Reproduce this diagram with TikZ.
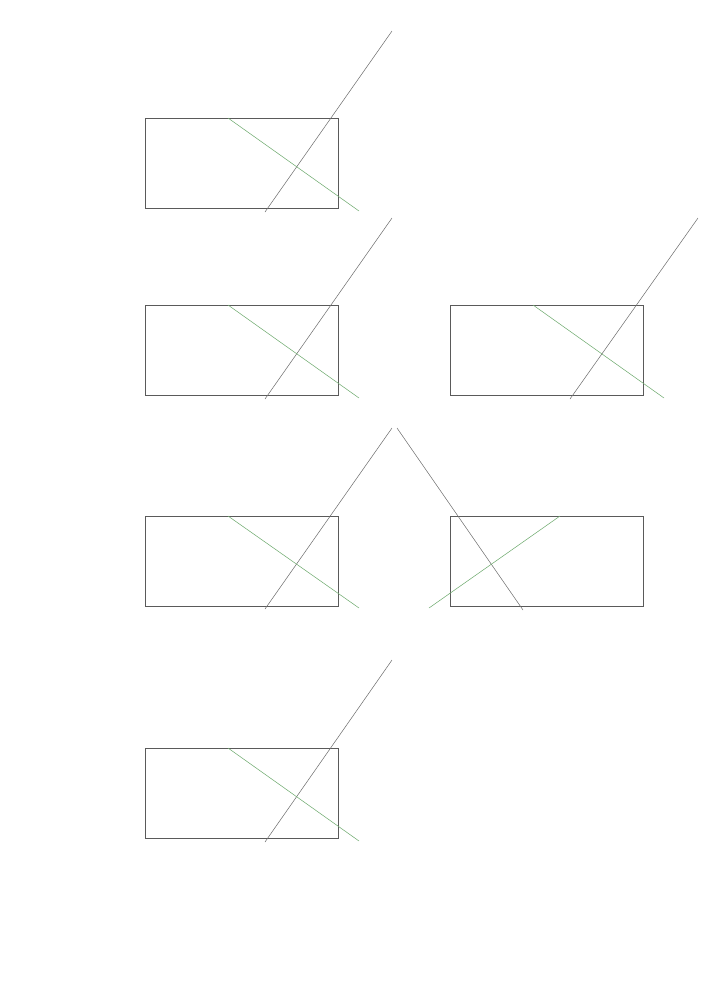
\documentclass[tikz,border=0pt]{standalone}
\usepackage{xcolor}
\usepackage{tikz}

\definecolor{boxgray}{RGB}{90,90,90}
\definecolor{raygray}{RGB}{110,110,110}
\definecolor{raygreen}{RGB}{110,170,110}

\begin{document}
\begin{tikzpicture}[x=0.03cm, y=-0.03cm]
\tikzstyle{panel} = [rectangle, draw=boxgray, line width=0.5pt, minimum width=5.79cm, minimum height=2.7cm, inner sep=0pt]
\tikzstyle{ray} = [draw=raygray, line width=0.45pt]
\tikzstyle{cut} = [draw=raygreen, line width=0.45pt]

\useasboundingbox (0,0) rectangle (707,1000);

\node (p1) [panel] at (241.5,163) {};
\node (p2) [panel] at (241.5,350) {};
\node (p3) [panel] at (547,350) {};
\node (p4) [panel] at (241.5,561) {};
\node (p5) [panel] at (547,561) {};
\node (p6) [panel] at (241.5,793) {};

% end points of the strokes
\coordinate (r1a) at (265,212); \coordinate (r1b) at (392,31);
\coordinate (g1a) at (228,118); \coordinate (g1b) at (359,211);
\coordinate (r2a) at (265,399); \coordinate (r2b) at (392,218);
\coordinate (g2a) at (228,305); \coordinate (g2b) at (359,398);
\coordinate (r3a) at (570,399); \coordinate (r3b) at (698,218);
\coordinate (g3a) at (533,305); \coordinate (g3b) at (664,398);
\coordinate (r4a) at (265,609); \coordinate (r4b) at (392,428);
\coordinate (g4a) at (228,516); \coordinate (g4b) at (359,608);
\coordinate (r5a) at (397,428); \coordinate (r5b) at (523,610);
\coordinate (g5a) at (560,516); \coordinate (g5b) at (429,608);
\coordinate (r6a) at (265,842); \coordinate (r6b) at (392,660);
\coordinate (g6a) at (228,748); \coordinate (g6b) at (359,841);

\draw [ray] (r1a) -- (r1b);
\draw [cut] (g1a) -- (g1b);
\draw [ray] (r2a) -- (r2b);
\draw [cut] (g2a) -- (g2b);
\draw [ray] (r3a) -- (r3b);
\draw [cut] (g3a) -- (g3b);
\draw [ray] (r4a) -- (r4b);
\draw [cut] (g4a) -- (g4b);
\draw [ray] (r5a) -- (r5b);
\draw [cut] (g5a) -- (g5b);
\draw [ray] (r6a) -- (r6b);
\draw [cut] (g6a) -- (g6b);

\end{tikzpicture}
\end{document}
